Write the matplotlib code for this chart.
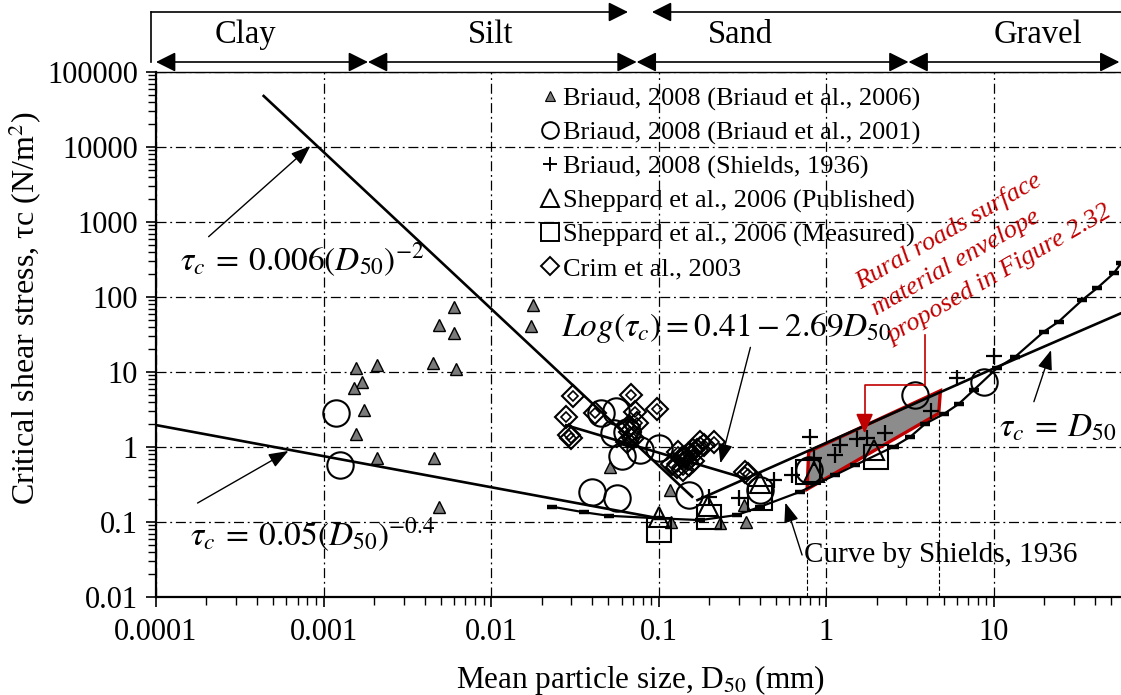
import matplotlib
matplotlib.use('Agg')
import matplotlib.pyplot as plt
from matplotlib.lines import Line2D
from matplotlib.patches import Polygon, FancyArrowPatch
from matplotlib.transforms import offset_copy
from matplotlib.ticker import FixedLocator, FixedFormatter, LogLocator, NullFormatter

plt.rcParams['font.family'] = ['Liberation Serif', 'DejaVu Serif']
plt.rcParams['mathtext.fontset'] = 'stix'

# ---------------- data ----------------
x_ticks = [1e-4, 1e-3, 1e-2, 0.1, 1, 10, 100]
x_tick_labels = ['0.0001', '0.001', '0.01', '0.1', '1', '10', '']
y_ticks = [0.01, 0.1, 1, 10, 100, 1000, 10000, 100000]
y_tick_labels = ['0.01', '0.1', '1', '10', '100', '1000', '10000', '100000']

# Briaud, 2008 (Briaud et al., 2006)
briaud06_d = [0.00597, 0.00486, 0.00597, 0.0178, 0.0173, 0.00157, 0.00207, 0.0045, 0.0062,
              0.0017, 0.00151, 0.00175, 0.00157, 0.00207, 0.00458, 0.00486, 0.0509, 0.116,
              0.119, 0.233, 0.333, 0.324]
briaud06_tau = [74.3, 42.3, 32.8, 78.2, 41.1, 11.2, 12.4, 13.1, 10.9,
                7.42, 6.07, 3.11, 1.49, 0.707, 0.707, 0.157, 0.536, 0.267,
                0.101, 0.096, 0.101, 0.168]
# Briaud, 2008 (Briaud et al., 2001)
briaud01_d = [0.00119, 0.00125, 0.040, 0.0563, 0.0449, 0.0557, 0.0543, 0.065, 0.0604,
              0.0777, 0.100, 0.151, 0.404, 0.784, 3.40, 8.69]
briaud01_tau = [2.81, 0.575, 0.254, 0.207, 2.87, 3.0, 1.52, 1.6, 0.759,
                0.912, 0.96, 0.229, 0.267, 0.494, 4.93, 7.42]
# Briaud, 2008 (Shields, 1936)
shields_pts_d = [10.0, 6.03, 4.21, 2.25, 1.75, 1.52, 1.21, 1.13, 0.803, 0.84, 0.624, 0.485, 0.300, 0.199]
shields_pts_tau = [16.3, 8.24, 3.05, 1.55, 1.31, 1.27, 1.06, 0.782, 1.37, 0.707, 0.424, 0.363, 0.207, 0.218]
# Sheppard et al., 2006 (Published)
shep_pub_d = [0.1, 0.196, 0.40, 0.84, 1.93]
shep_pub_tau = [0.118, 0.165, 0.328, 0.469, 0.912]
# Sheppard et al., 2006 (Measured)
shep_meas_d = [0.1, 0.2, 0.40, 0.78, 1.99]
shep_meas_tau = [0.078, 0.115, 0.207, 0.47, 0.743]
# Crim et al., 2003
crim_d = [0.0308, 0.0281, 0.030, 0.029, 0.0419, 0.0683, 0.0724, 0.0975, 0.0676, 0.0738, 0.066,
          0.070, 0.065, 0.138, 0.129, 0.151, 0.177, 0.213, 0.161, 0.143, 0.185, 0.120, 0.130,
          0.150, 0.160, 0.140, 0.170, 0.328, 0.340]
crim_tau = [4.79, 2.54, 1.31, 1.45, 2.81, 4.93, 2.96, 3.18, 1.6, 2.07, 1.9,
            1.3, 1.15, 0.707, 0.547, 0.575, 1.18, 1.18, 0.912, 0.74, 1.06, 0.60, 0.85,
            0.80, 0.65, 0.50, 0.90, 0.469, 0.44]

# fitted / reference lines
steep_d = [4.39e-4, 0.158]          # tau_c = 0.006 (D50)^-2
steep_tau = [47900, 0.217]
flat_d = [1e-4, 0.1]                # tau_c = 0.05 (D50)^-0.4
flat_tau = [1.96, 0.112]
logfit_d = [0.028, 0.33]            # Log(tau_c) = 0.41 - 2.69 D50
logfit_tau = [1.95, 0.38]
equal_d = [0.17, 10.0, 57.5]        # tau_c = D50
equal_tau = [0.196, 11.2, 61.0]
shields_curve_d = [0.0231, 0.0356, 0.0502, 0.100, 0.177, 0.293, 0.404, 0.70, 1.13, 1.49, 2.52,
                   3.17, 3.90, 5.01, 6.15, 7.57, 10.4, 13.4, 19.8, 24.3, 33.6, 41.2, 51.8, 57.5]
shields_curve_tau = [0.16, 0.135, 0.121, 0.112, 0.106, 0.124, 0.16, 0.254, 0.424, 0.575, 1.01,
                     1.37, 2.05, 2.75, 3.74, 5.75, 11.2, 16.0, 34.4, 46.9, 91.2, 131, 207, 284]
# rural roads surface envelope
envelope_d = [0.767, 0.784, 4.79, 4.68]
envelope_tau = [0.273, 0.866, 5.63, 2.81]
envelope_note = ['Rural roads surface', 'material envelope', 'proposed in Figure 2.32']

# soil classes band
class_names = ['Clay', 'Silt', 'Sand', 'Gravel']
class_label_d = [3.41e-4, 0.00989, 0.307, 18.2]
class_bounds = [1e-4, 0.00184, 0.0738, 3.09, 56.0]

legend_labels = ['Briaud, 2008 (Briaud et al., 2006)', 'Briaud, 2008 (Briaud et al., 2001)',
                 'Briaud, 2008 (Shields, 1936)', 'Sheppard et al., 2006 (Published)',
                 'Sheppard et al., 2006 (Measured)', 'Crim et al., 2003']

# ---------------- figure ----------------
W, H = 1121, 695
fig = plt.figure(figsize=(W / 100, H / 100), dpi=100)
x0px, dec = 156, 167.6
ax = fig.add_axes([x0px / W, 98 / H, 6 * dec / W, 525 / H])
ax.set_xscale('log')
ax.set_yscale('log')
ax.set_xlim(1e-4, 100)
ax.set_ylim(0.01, 1e5)

ax.xaxis.set_major_locator(FixedLocator(x_ticks))
ax.xaxis.set_major_formatter(FixedFormatter(x_tick_labels))
ax.yaxis.set_major_locator(FixedLocator(y_ticks))
ax.yaxis.set_major_formatter(FixedFormatter(y_tick_labels))
ax.xaxis.set_minor_locator(LogLocator(base=10, subs=range(2, 10), numticks=20))
ax.yaxis.set_minor_locator(LogLocator(base=10, subs=range(2, 10), numticks=20))
ax.xaxis.set_minor_formatter(NullFormatter())
ax.yaxis.set_minor_formatter(NullFormatter())
ax.tick_params(which='major', direction='out', length=7, width=1.2, labelsize=22, pad=6)
ax.tick_params(which='minor', direction='out', length=6, width=1.0)
ax.tick_params(axis='x', which='major', pad=8)
for s in ['left', 'bottom']:
    ax.spines[s].set_linewidth(1.6)
ax.spines['top'].set_linewidth(1.0)
ax.spines['right'].set_visible(False)
ax.grid(True, which='major', color='black', linestyle=(0, (8, 3, 1.5, 3)), linewidth=0.9)
ax.set_axisbelow(True)

ax.set_xlabel('Mean particle size, D$_{50}$ (mm)', fontsize=22.5)
ax.xaxis.set_label_coords((640 - x0px) / (6 * dec), -0.125)
ax.set_ylabel('Critical shear stress, τc (N/m$^{2}$)', fontsize=23)
ax.yaxis.set_label_coords((44 - x0px) / (6 * dec), 0.55)

# envelope
ax.add_patch(Polygon(list(zip(envelope_d, envelope_tau)), closed=True, facecolor='#8c8c8c',
                     edgecolor='#c00000', linewidth=2.4, zorder=2))
ax.plot([envelope_d[0], envelope_d[0]], [0.01, envelope_tau[0]], color='black', lw=0.8,
        ls=(0, (4, 2)), zorder=1.5)
ax.plot([envelope_d[3], envelope_d[3]], [0.01, envelope_tau[3]], color='black', lw=0.8,
        ls=(0, (4, 2)), zorder=1.5)

# lines
lk = dict(color='black', lw=1.9, zorder=3)
ax.plot(steep_d, steep_tau, **lk)
ax.plot(flat_d, flat_tau, **lk)
ax.plot(logfit_d, logfit_tau, **lk)
ax.plot(equal_d, equal_tau, **lk)
ax.plot(shields_curve_d, shields_curve_tau, color='black', lw=1.6, marker='_', ms=7, mew=3.2,
        zorder=3)

# scatter
ax.plot(briaud06_d, briaud06_tau, ls='none', marker='^', ms=8, mfc='#7a7a7a', mec='black',
        mew=1.0, zorder=4)
ax.plot(briaud01_d, briaud01_tau, ls='none', marker='o', ms=19, mfc='none', mec='black',
        mew=1.5, zorder=4)
ax.plot(shields_pts_d, shields_pts_tau, ls='none', marker='+', ms=11, mec='black', mew=1.6,
        zorder=4)
ax.plot(shep_pub_d, shep_pub_tau, ls='none', marker='^', ms=14, mfc='none', mec='black',
        mew=1.5, zorder=4)
ax.plot(shep_meas_d, shep_meas_tau, ls='none', marker='s', ms=17, mfc='none', mec='black',
        mew=1.5, zorder=4)
ax.plot(crim_d, crim_tau, ls='none', marker='D', ms=11, mfc='none', mec='black', mew=1.5,
        zorder=4)
ax.plot(crim_d, crim_tau, ls='none', marker='D', ms=5, mfc='none', mec='black', mew=1.2,
        zorder=4)

# annotations
ap = dict(arrowstyle='-|>,head_length=0.8,head_width=0.3', color='black', lw=1.0,
          shrinkA=0, shrinkB=0, mutation_scale=15)
ax.annotate('', xy=(8.34e-4, 10300), xytext=(2.06e-4, 637), arrowprops=ap, zorder=5)
ax.text(7.47e-4, 311, r'$\tau_c\:=\:0.006(D_{50})^{-2}$', fontsize=24, ha='center', va='center')
ax.annotate('', xy=(6.17e-4, 0.885), xytext=(1.77e-4, 0.179), arrowprops=ap, zorder=5)
ax.text(8.57e-4, 0.0671, r'$\tau_c\:=\:0.05(D_{50})^{-0.4}$', fontsize=24, ha='center', va='center')
ax.annotate('', xy=(0.233, 0.607), xytext=(0.352, 21.3), arrowprops=ap, zorder=5)
ax.text(0.253, 38.6, r'$Log(\tau_c) = 0.41 - 2.69D_{50}$', fontsize=24, ha='center', va='center')
ax.annotate('', xy=(21.9, 19.6), xytext=(17.3, 4.02), arrowprops=ap, zorder=5)
ax.text(24.2, 1.79, r'$\tau_c\:=\:D_{50}$', fontsize=24, ha='center', va='center')
ax.annotate('', xy=(0.569, 0.181), xytext=(0.716, 0.0363), arrowprops=ap, zorder=5)
ax.text(0.732, 0.0363, 'Curve by Shields, 1936', fontsize=21, ha='left', va='center')

# red connector and text
red = '#c00000'
ax.plot([3.90, 3.90, 1.69, 1.69], [31.1, 6.71, 6.71, 2.4], color=red, lw=1.2, zorder=5)
apr = dict(arrowstyle='-|>,head_length=0.8,head_width=0.35', color=red, lw=1.2,
           shrinkA=0, shrinkB=0, mutation_scale=15)
ax.annotate('', xy=(1.69, 1.52), xytext=(1.69, 2.6), arrowprops=apr, zorder=5)
line_step = 22.8  # points between rotated lines
for k, line in enumerate(envelope_note):
    tr = offset_copy(ax.transData, fig=fig, x=0.5 * line_step * k, y=-0.866 * line_step * k,
                     units='points')
    ax.text(1.42, 203, line, transform=tr, color=red, fontsize=19, style='italic',
            rotation=30, rotation_mode='anchor', ha='left', va='top', zorder=5)

# legend
handles = [
    Line2D([], [], ls='none', marker='^', ms=7, mfc='#7a7a7a', mec='black', mew=0.8),
    Line2D([], [], ls='none', marker='o', ms=12, mfc='none', mec='black', mew=1.4),
    Line2D([], [], ls='none', marker='+', ms=10, mec='black', mew=1.4),
    Line2D([], [], ls='none', marker='^', ms=13, mfc='none', mec='black', mew=1.4),
    Line2D([], [], ls='none', marker='s', ms=13, mfc='none', mec='black', mew=1.4),
    Line2D([], [], ls='none', marker='D', ms=9, mfc='none', mec='black', mew=1.4),
]
ax.legend(handles, legend_labels, loc='upper left', bbox_to_anchor=(537 / W, (695 - 87) / H),
          bbox_transform=fig.transFigure, frameon=False, fontsize=19, handlelength=1.0,
          handletextpad=0.0, borderpad=0, borderaxespad=0, labelspacing=0.38)

# ---------------- top band of soil classes ----------------
bax = fig.add_axes([x0px / W, (695 - 70) / H, 6 * dec / W, 66 / H])
bax.set_xscale('log')
bax.set_xlim(1e-4, 100)
bax.set_ylim(0, 1)
bax.axis('off')
y_top, y_bot, y_txt = (70 - 12) / 66, (70 - 62) / 66, (70 - 35) / 66
x_left = 10 ** (-4 + (151 - 156) / dec)
bax.plot([x_left, x_left], [y_bot, y_top], color='black', lw=1.2, clip_on=False)
arr1 = dict(arrowstyle='-|>,head_length=0.6,head_width=0.3', mutation_scale=20, color='black',
            lw=1.2, shrinkA=0, shrinkB=0, clip_on=False)
arr2 = dict(arrowstyle='<|-|>,head_length=0.6,head_width=0.3', mutation_scale=20, color='black',
            lw=1.2, shrinkA=0, shrinkB=0, clip_on=False)
bax.add_patch(FancyArrowPatch((x_left, y_top), (0.0655, y_top), **arr1))
bax.add_patch(FancyArrowPatch((100, y_top), (0.091, y_top), **arr1))
for a, b in zip(class_bounds[:-1], class_bounds[1:]):
    bax.add_patch(FancyArrowPatch((a, y_bot), (b, y_bot), **arr2))
for name, xd in zip(class_names, class_label_d):
    bax.text(xd, y_txt, name, fontsize=23.5, ha='center', va='center')

fig.savefig('out.png', dpi=100)
